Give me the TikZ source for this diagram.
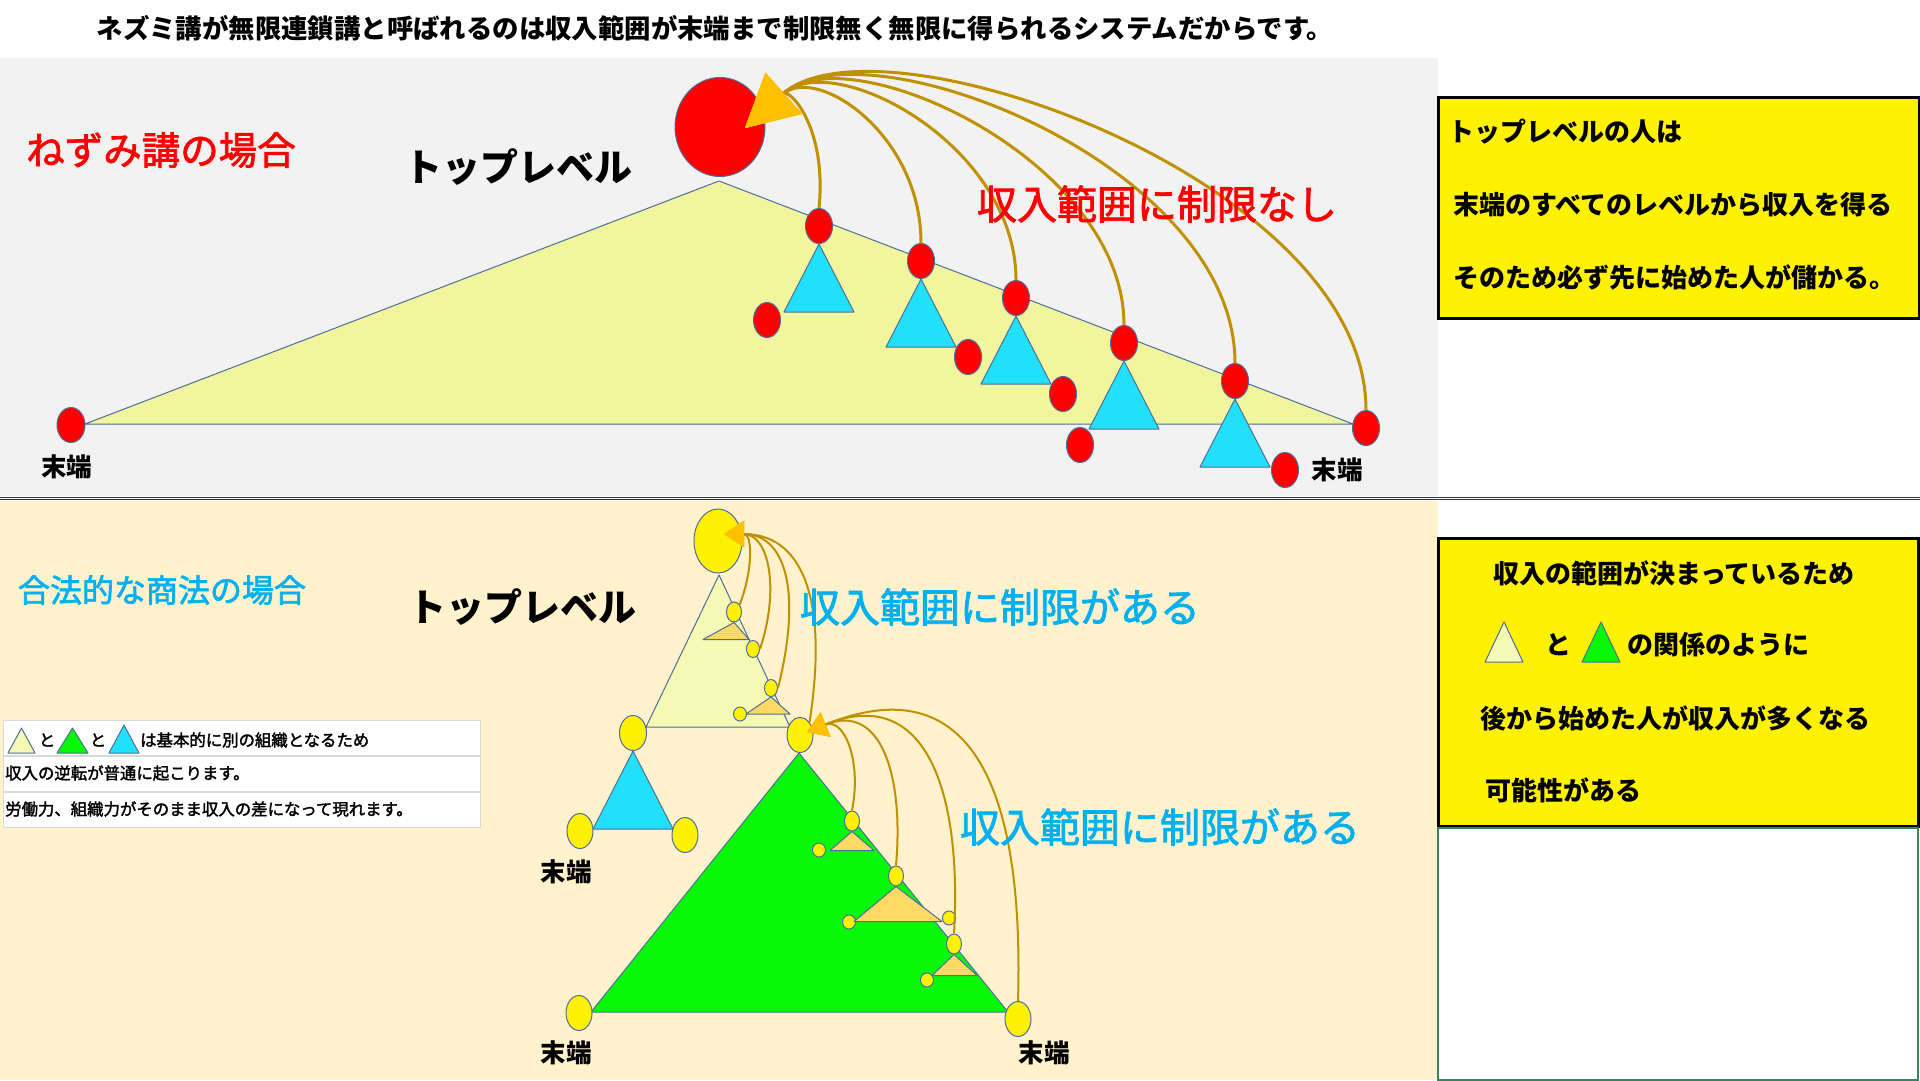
\documentclass[tikz,border=0pt]{standalone}
\usepackage{fontspec}
\setmainfont{Noto Sans CJK JP}
\newfontfamily\jpmed[FakeBold=2]{Noto Sans CJK JP}
\usetikzlibrary{arrows.meta, shapes.geometric}
\definecolor{panelgray}{HTML}{F2F2F2}
\definecolor{panelcream}{HTML}{FFF2CC}
\definecolor{edgeblue}{HTML}{4F6E99}
\definecolor{paleyel}{HTML}{F1F69E}
\definecolor{lightyel}{HTML}{F4F9B4}
\definecolor{skyblue}{HTML}{22DFFA}
\definecolor{brightgreen}{HTML}{08F808}
\definecolor{tipgold}{HTML}{FFC000}
\definecolor{linkgold}{HTML}{BF9000}
\definecolor{subtri}{HTML}{FFD966}
\definecolor{textcyan}{HTML}{00B0F0}
\definecolor{boxgreen}{HTML}{3E8060}
\newcommand{\jpsize}[1]{\fontsize{#1}{#1}\selectfont}

\begin{document}
\begin{tikzpicture}[
  x=1pt, y=-1pt,
  txt/.style={inner sep=0pt, text=black},
  redn/.style={ellipse, draw=edgeblue, line width=1pt, fill=red, inner sep=0pt,
               minimum width=27pt, minimum height=35pt},
  yeln/.style={ellipse, draw=edgeblue, line width=1pt, fill=yellow, inner sep=0pt,
               minimum width=26pt, minimum height=35pt},
  dotn/.style={yeln, minimum width=15pt, minimum height=20pt},
  tinyn/.style={yeln, minimum width=13pt, minimum height=14pt},
  tri/.style={draw=edgeblue, line width=1pt, line join=round},
  notebox/.style={draw=black, line width=2.5pt, fill=yellow, anchor=north west, inner sep=0pt},
  legendrow/.style={draw=black!15, line width=1pt, fill=white},
  bigarr/.style={draw=linkgold, line width=3pt, -{Triangle[length=52pt, width=54pt, color=tipgold]}},
  smallarr/.style={draw=linkgold, line width=2pt, -{Triangle[length=20pt, width=26pt, color=tipgold]}}
]
  \useasboundingbox (0,0) rectangle (1920,1080);

  % Panels
  \fill[white] (0,0) rectangle (1920,1080);
  \fill[panelgray] (0,58) rectangle (1438,496);
  \fill[panelcream] (0,501) rectangle (1438,1080);
  \draw[double=white, double distance=1.5pt, line width=1pt, draw=black!80] (0,498.5) -- (1920,498.5);

  \node[txt, font=\jpsize{26.4}\bfseries] (title) at (715,28)
    {ネズミ講が無限連鎖講と呼ばれるのは収入範囲が末端まで制限無く無限に得られるシステムだからです。};

  % Upper: pyramid scheme
  \draw[tri, fill=paleyel] (85,424) -- (719,181) -- (1353,424) -- cycle;

  \node[redn, minimum width=90pt, minimum height=99pt] (topR) at (720,127) {};
  \node[redn, minimum width=28pt] (leftR) at (71,425) {};
  \node[redn] (u1) at (819,226) {};
  \node[redn] (u2) at (921,261) {};
  \node[redn] (u3) at (1016,298) {};
  \node[redn] (u4) at (1124,343) {};
  \node[redn] (u5) at (1235,381) {};
  \node[redn] (u6) at (1366,428) {};
  \node[redn] (s1) at (767,320) {};
  \node[redn] (s2) at (968,357) {};
  \node[redn] (s3) at (1063,394) {};
  \node[redn] (s4) at (1080,445) {};
  \node[redn] (s5) at (1285,470) {};

  \foreach \n in {1,...,5}
    \draw[tri, fill=skyblue] (u\n.south) -- ++(-35,68) -- ++(70,0) -- cycle;

  \coordinate (tipU) at (745,128);
  \draw[bigarr] (u1.north) .. controls +(8,-80) and +(45,-40) .. (tipU);
  \draw[bigarr] (u2.north) .. controls +(0,-110) and +(71,-63) .. (tipU);
  \draw[bigarr] (u3.north) .. controls +(0,-135) and +(89,-80) .. (tipU);
  \draw[bigarr] (u4.north) .. controls +(0,-165) and +(104,-94) .. (tipU);
  \draw[bigarr] (u5.north) .. controls +(0,-200) and +(119,-107) .. (tipU);
  \draw[bigarr] (u6.north) .. controls +(0,-230) and +(134,-120) .. (tipU);

  \node[txt, text=red, font=\jpsize{38.5}\jpmed] (caseA) at (161,150) {ねずみ講の場合};
  \node[txt, font=\jpsize{38}\bfseries] (topA) at (518,167) {トップレベル};
  \node[txt, text=red, font=\jpsize{40}\jpmed] (noLimit) at (1157,204) {収入範囲に制限なし};
  \node[txt, font=\jpsize{25.5}\bfseries] (endA1) at (67,467) {末端};
  \node[txt, font=\jpsize{25.5}\bfseries] (endA2) at (1337,470) {末端};

  % Upper note
  \node[notebox, minimum width=481pt, minimum height=221pt] (noteA) at (1437,96) {};
  \node[txt, anchor=west, font=\jpsize{26}\bfseries] at (1448,132) {トップレベルの人は};
  \node[txt, anchor=west, font=\jpsize{26}\bfseries] at (1453,205) {末端のすべてのレベルから収入を得る};
  \node[txt, anchor=west, font=\jpsize{26}\bfseries] at (1453,277) {そのため必ず先に始めた人が儲かる。};

  % Lower: legal business
  \draw[tri, fill=lightyel] (719,575) -- (646,727) -- (790,727) -- cycle;
  \draw[tri, fill=brightgreen] (799,753) -- (591,1012) -- (1008,1012) -- cycle;

  \node[yeln, minimum width=48pt, minimum height=64pt] (topY) at (718,541) {};
  \node[dotn] (a) at (734,612) {};
  \node[tinyn, minimum height=17pt] (b) at (753,649) {};
  \node[tinyn, minimum height=17pt] (c) at (771,688) {};
  \node[tinyn] (d) at (740,714) {};
  \node[yeln, minimum width=27pt] (m1) at (633,733) {};
  \node[yeln] (gTop) at (800,735) {};
  \node[yeln] (bl1) at (580,831) {};
  \node[yeln] (br1) at (685,835) {};
  \node[yeln] (gBL) at (579,1013) {};
  \node[yeln] (gBR) at (1018,1019) {};
  \node[dotn] (g1) at (852,821) {};
  \node[tinyn] (g1L) at (819,850) {};
  \node[dotn] (g2) at (896,876) {};
  \node[tinyn] (g2L) at (849,922) {};
  \node[tinyn] (g2R) at (949,918) {};
  \node[dotn] (g3) at (954,944) {};
  \node[tinyn] (g3L) at (927,980) {};

  \draw[tri, fill=skyblue] (m1.south) -- (593,829) -- (673,829) -- cycle;
  \draw[tri, fill=subtri] (a.south) -- ++(-31,17) -- ++(46,0) -- cycle;
  \draw[tri, fill=subtri] (c.south) -- ++(-25,17) -- ++(44,0) -- cycle;
  \draw[tri, fill=subtri] (g1.south) -- ++(-22,19) -- ++(44,0) -- cycle;
  \draw[tri, fill=subtri] (g2.south) -- ++(-42,35) -- ++(88,0) -- cycle;
  \draw[tri, fill=subtri] (g3.south) -- ++(-22,21) -- ++(45,0) -- cycle;

  \coordinate (tipL) at (724,534);
  \draw[smallarr] (a.north east) .. controls +(12,-30) and +(30,0) .. (tipL);
  \draw[smallarr] (b.east) .. controls +(20,-60) and +(45,0) .. (tipL);
  \draw[smallarr] (c.east) .. controls +(25,-100) and +(60,0) .. (tipL);
  \draw[smallarr] (gTop.north east) .. controls +(20,-130) and +(75,0) .. (tipL);

  \coordinate (tipG) at (807,732);
  \draw[smallarr] (g1.north) .. controls +(10,-50) and +(37,-15) .. (tipG);
  \draw[smallarr] (g2.north) .. controls +(8,-90) and +(74,-30) .. (tipG);
  \draw[smallarr] (g3.north) .. controls +(8,-140) and +(120,-49) .. (tipG);
  \draw[smallarr] (gBR.north) .. controls +(5,-170) and +(185,-75) .. (tipG);

  \node[txt, text=textcyan, font=\jpsize{32}\jpmed] (caseB) at (162,590) {合法的な商法の場合};
  \node[txt, font=\jpsize{38}\bfseries] (topB) at (522,607) {トップレベル};
  \node[txt, text=textcyan, font=\jpsize{40}\jpmed] (limitB1) at (1000,607) {収入範囲に制限がある};
  \node[txt, text=textcyan, font=\jpsize{40}\jpmed] (limitB2) at (1160,827) {収入範囲に制限がある};
  \node[txt, font=\jpsize{25.5}\bfseries] (endB1) at (566,872) {末端};
  \node[txt, font=\jpsize{25.5}\bfseries] (endB2) at (566,1053) {末端};
  \node[txt, font=\jpsize{25.5}\bfseries] (endB3) at (1044,1053) {末端};

  % Legend table
  \foreach \top/\bot in {720/755, 756/791, 792/827}
    \draw[legendrow] (3,\top) rectangle (480,\bot);
  \draw[tri, fill=lightyel] (8,753) -- (21.5,728) -- (35,753) -- cycle;
  \node[txt, font=\jpsize{16.4}\jpmed] at (47,740) {と};
  \draw[tri, fill=brightgreen] (57,753) -- (72.5,728) -- (88,753) -- cycle;
  \node[txt, font=\jpsize{16.4}\jpmed] at (98,740) {と};
  \draw[tri, fill=skyblue] (109,753) -- (124,725) -- (139,753) -- cycle;
  \node[txt, anchor=west, font=\jpsize{16.4}\jpmed] at (140,740) {は基本的に別の組織となるため};
  \node[txt, anchor=west, font=\jpsize{16.4}\jpmed] at (5,773) {収入の逆転が普通に起こります。};
  \node[txt, anchor=west, font=\jpsize{16.4}\jpmed] at (5,809) {労働力、組織力がそのまま収入の差になって現れます。};

  % Lower note
  \node[notebox, minimum width=480pt, minimum height=288pt] (noteB) at (1437,537) {};
  \node[draw=boxgreen, line width=2pt, fill=white, anchor=north west, inner sep=0pt,
        minimum width=480pt, minimum height=252pt] (blankB) at (1437,827) {};
  \node[txt, anchor=west, font=\jpsize{26}\bfseries] at (1493,573) {収入の範囲が決まっているため};
  \draw[tri, fill=lightyel] (1485,662) -- (1504,622) -- (1523,662) -- cycle;
  \node[txt, font=\jpsize{26}\bfseries] at (1558,645) {と};
  \draw[tri, fill=brightgreen] (1582,662) -- (1601,622) -- (1620,662) -- cycle;
  \node[txt, anchor=west, font=\jpsize{26}\bfseries] at (1627,645) {の関係のように};
  \node[txt, anchor=west, font=\jpsize{26}\bfseries] at (1480,718) {後から始めた人が収入が多くなる};
  \node[txt, anchor=west, font=\jpsize{26}\bfseries] at (1485,790) {可能性がある};
\end{tikzpicture}
\end{document}
